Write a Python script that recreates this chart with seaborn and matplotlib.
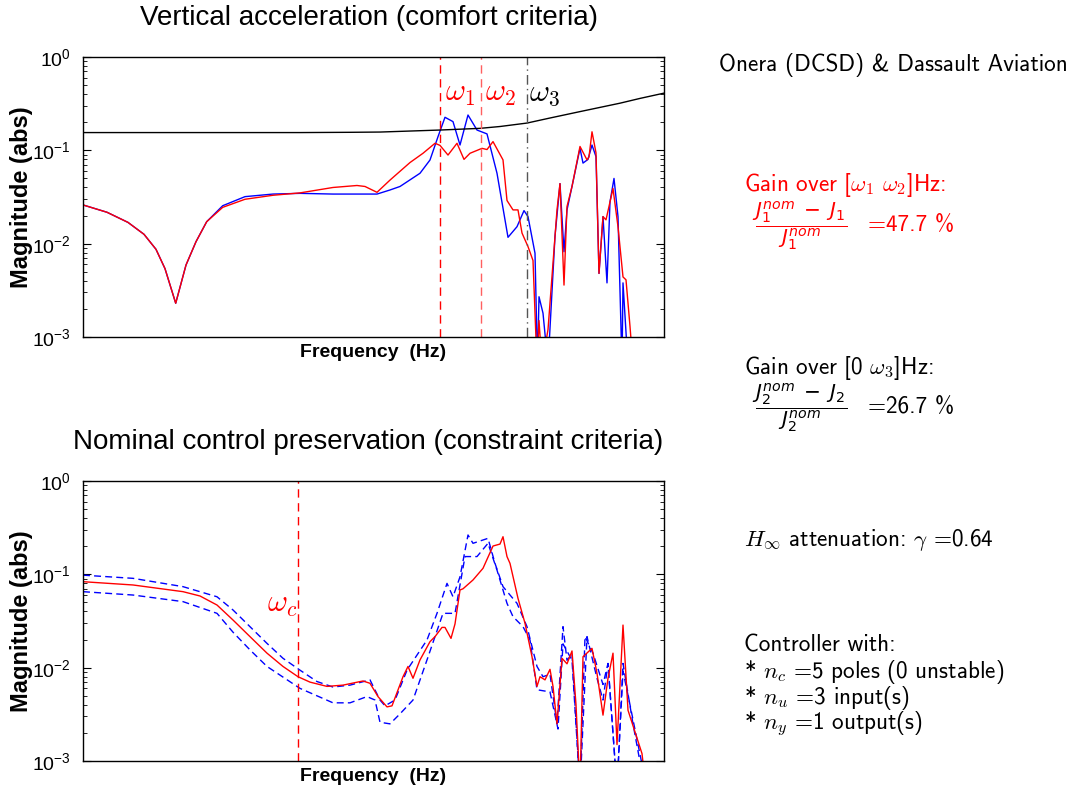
import matplotlib
matplotlib.use("Agg")
import matplotlib.pyplot as plt
import seaborn as sns

# --- data (frequency in Hz, magnitude in abs) ---
# top panel : vertical acceleration
f_bound = [0, 11.7, 21.7, 26.7, 29.7, 35.7, 39.7, 41.7, 44.4, 46.7, 49.7, 53.7, 55.7, 58.1]
mag_bound = [0.155, 0.155, 0.155, 0.156, 0.157, 0.165, 0.172, 0.18, 0.196, 0.222, 0.26, 0.32, 0.36, 0.41]

f_acc_nom = [0, 2.4, 4.5, 6.1, 7.3, 8.2, 9.27, 10.3, 11.3, 12.37,
             13.97, 16.2, 19.0, 21.7, 25.0, 29.4, 30.7, 31.7, 33.7, 34.7,
             35.5, 36.2, 37.0, 37.7, 38.5, 39.4, 40.4, 41.4, 42.5, 43.4,
             44.1, 44.5, 45.2, 45.45, 45.6, 46.0, 46.5, 47.2, 47.7, 48.1,
             48.4, 48.9, 49.7, 50.0, 50.5, 50.9, 51.3, 51.6, 52.0, 52.4,
             52.7, 53.1, 53.5, 53.9, 54.0, 54.5]
mag_acc_nom = [0.026, 0.0217, 0.0169, 0.0126, 0.0087, 0.0054, 0.0023, 0.0059, 0.0105, 0.0172,
               0.0255, 0.0319, 0.034, 0.0346, 0.034, 0.034, 0.0376, 0.041, 0.0568, 0.0788,
               0.14, 0.226, 0.203, 0.114, 0.239, 0.165, 0.15, 0.0568, 0.0117, 0.0152,
               0.0226, 0.0195, 0.0079, 0.0005, 0.0027, 0.0018, 0.0005, 0.012, 0.044, 0.0082,
               0.023, 0.041, 0.105, 0.073, 0.08, 0.114, 0.0855, 0.0048, 0.0195, 0.0038,
               0.028, 0.05, 0.0195, 0.0005, 0.0038, 0.0005]

f_acc_new = [0, 2.4, 4.5, 6.1, 7.3, 8.2, 9.27, 10.3, 11.3, 12.37,
             13.97, 16.2, 19.0, 21.7, 25.0, 27.4, 28.2, 29.4, 30.7, 32.7,
             34.0, 35.2, 35.7, 36.5, 37.4, 38.1, 38.7, 39.9, 40.4, 41.0,
             42.0, 42.4, 43.0, 43.5, 43.9, 44.5, 45.0, 45.4, 45.6, 45.9,
             46.5, 47.4, 47.7, 48.1, 48.4, 48.9, 49.7, 50.4, 50.6, 50.9,
             51.3, 51.6, 52.0, 52.3, 52.7, 53.0, 53.5, 54.0, 54.3, 54.7,
             55.0]
mag_acc_new = [0.026, 0.0217, 0.0169, 0.0126, 0.0087, 0.0054, 0.0023, 0.0059, 0.0105, 0.0172,
               0.0245, 0.0299, 0.033, 0.035, 0.040, 0.042, 0.041, 0.0355, 0.048, 0.074,
               0.093, 0.119, 0.113, 0.089, 0.119, 0.080, 0.093, 0.105, 0.102, 0.124,
               0.079, 0.029, 0.023, 0.023, 0.013, 0.0093, 0.0066, 0.0005, 0.0015, 0.0005,
               0.0012, 0.023, 0.044, 0.0036, 0.025, 0.041, 0.11, 0.079, 0.085, 0.158,
               0.094, 0.0048, 0.0195, 0.018, 0.028, 0.039, 0.0152, 0.0044, 0.0041, 0.0013,
               0.0005]

# bottom panel : nominal control preservation
f_ctrl = [0, 5.0, 10.0, 11.7, 13.4, 15.0, 16.7, 18.4, 20.0, 21.5,
          22.7, 24.4, 26.0, 28.0, 28.7, 29.5, 30.4, 30.9, 32.0, 32.5,
          33.0, 33.7, 34.7, 35.2, 35.9, 36.2, 36.8, 37.2, 37.7, 38.0,
          39.0, 40.0, 41.0, 41.7, 42.0, 42.4, 42.7, 43.5, 44.2, 44.9,
          45.4, 45.7, 46.2, 46.7, 47.0, 47.4, 47.9, 48.4, 48.9, 49.3,
          49.7, 50.0, 50.9, 51.4, 52.0, 52.5, 53.0, 53.4, 54.0, 54.5,
          55.9, 56.3]
mag_ctrl = [0.0834, 0.0769, 0.0652, 0.0586, 0.0469, 0.0324, 0.0215, 0.0143, 0.0103, 0.0080,
            0.0070, 0.0063, 0.0065, 0.0072, 0.0068, 0.0049, 0.0038, 0.0039, 0.008, 0.0103,
            0.0077, 0.0121, 0.019, 0.0215, 0.027, 0.027, 0.0206, 0.0294, 0.068, 0.07,
            0.087, 0.116, 0.201, 0.211, 0.253, 0.155, 0.131, 0.0553, 0.0299, 0.0131,
            0.0063, 0.0080, 0.0074, 0.0096, 0.0063, 0.0025, 0.0126, 0.011, 0.0151, 0.004,
            0.0005, 0.0131, 0.0161, 0.0087, 0.0031, 0.0077, 0.0143, 0.0015, 0.0286, 0.0035,
            0.0012, 0.0005]

f_ctrl_hi = [0, 5.0, 10.0, 13.4, 15.0, 18.4, 20.0, 21.7, 23.4, 25.0,
             26.7, 28.7, 29.7, 30.2, 31.2, 32.4, 34.4, 35.4, 36.4, 37.0,
             37.7, 38.5, 39.0, 40.5, 41.2, 42.0, 43.4, 44.4, 45.4, 46.0,
             46.7, 47.4, 48.0, 48.4, 48.9, 49.7, 50.2, 51.0, 52.0, 52.5,
             53.4, 54.0, 55.0, 56.2]
mag_ctrl_hi = [0.098, 0.0906, 0.0738, 0.0575, 0.0415, 0.0182, 0.0126, 0.0094, 0.0071, 0.0062,
               0.0065, 0.0074, 0.0045, 0.0039, 0.0045, 0.0094, 0.0198, 0.0382, 0.080, 0.0575,
               0.094, 0.264, 0.215, 0.243, 0.131, 0.0738, 0.0489, 0.0275, 0.0103, 0.0080,
               0.0085, 0.0025, 0.0275, 0.012, 0.014, 0.0005, 0.0215, 0.0143, 0.0066, 0.0111,
               0.0005, 0.0111, 0.0025, 0.0005]

f_ctrl_lo = [0, 5.0, 10.0, 13.4, 15.0, 16.7, 18.4, 21.7, 25.0, 26.7,
             28.4, 29.2, 29.7, 30.7, 31.7, 33.0, 34.4, 36.0, 37.2, 38.2,
             39.4, 40.5, 41.4, 42.4, 43.0, 44.0, 44.7, 45.4, 46.7, 47.5,
             48.0, 48.9, 49.7, 50.4, 51.4, 52.0, 52.5, 53.4, 54.0, 54.7,
             56.4]
mag_ctrl_lo = [0.0652, 0.060, 0.051, 0.0382, 0.024, 0.0155, 0.0103, 0.0060, 0.0042, 0.0042,
               0.0049, 0.0045, 0.0026, 0.0025, 0.0032, 0.0045, 0.0121, 0.0382, 0.0382, 0.155,
               0.155, 0.215, 0.111, 0.0489, 0.0352, 0.0275, 0.0198, 0.0058, 0.0055, 0.0022,
               0.018, 0.012, 0.0005, 0.0215, 0.0077, 0.0045, 0.011, 0.0005, 0.0092, 0.004,
               0.0005]

# band limits (Hz)
w1, w2, w3, wc = 35.7, 39.8, 44.4, 21.5
f_max = 58.1

# --- style ---
sns.set_style("white")
plt.rcParams['font.family'] = ['Liberation Sans', 'DejaVu Sans']
plt.rcParams['mathtext.fontset'] = 'custom'
plt.rcParams['mathtext.rm'] = 'Liberation Sans'
plt.rcParams['mathtext.it'] = 'Liberation Sans:italic'
plt.rcParams['mathtext.bf'] = 'Liberation Sans:bold'
for key in ('text.color', 'axes.labelcolor', 'xtick.color', 'ytick.color'):
    plt.rcParams[key] = 'black'

W, H = 1077, 789
fig = plt.figure(figsize=(W / 100, H / 100), dpi=100)
ax1 = fig.add_axes([83 / W, 1 - 337 / H, 581 / W, 280 / H])
ax2 = fig.add_axes([83 / W, 1 - 761 / H, 581 / W, 280 / H])

kw = dict(estimator=None, sort=False, linewidth=1)
sns.lineplot(x=f_acc_nom, y=mag_acc_nom, color='#0000ff', ax=ax1, **kw)
sns.lineplot(x=f_acc_new, y=mag_acc_new, color='#ff0000', ax=ax1, **kw)
sns.lineplot(x=f_bound, y=mag_bound, color='black', ax=ax1, **kw)

dash = (0, (5, 3))
sns.lineplot(x=f_ctrl_hi, y=mag_ctrl_hi, color='#0000ff', ax=ax2, **kw)
sns.lineplot(x=f_ctrl_lo, y=mag_ctrl_lo, color='#0000ff', ax=ax2, **kw)
for ln in ax2.get_lines():
    ln.set_linestyle(dash)
sns.lineplot(x=f_ctrl, y=mag_ctrl, color='#ff0000', ax=ax2, **kw)

ax1.axvline(w1, color='#ff0000', lw=1, ls=(0, (6, 4)))
ax1.axvline(w2, color='#ff6060', lw=1, ls=(0, (6, 4)))
ax1.axvline(w3, color='#555555', lw=1, ls=(0, (7, 3, 1, 3)))
ax2.axvline(wc, color='#ff0000', lw=1, ls=(0, (6, 4)))

for ax in (ax1, ax2):
    ax.set_yscale('log')
    ax.set_ylim(1e-3, 1)
    ax.set_xlim(0, f_max)
    ax.set_xticks([])
    ax.tick_params(axis='y', which='both', direction='in', left=True, right=True,
                   labelsize=14, pad=9)
    ax.tick_params(axis='y', which='major', length=6, width=0.8)
    ax.tick_params(axis='y', which='minor', length=3, width=0.6)
    for s in ax.spines.values():
        s.set_color('black')
        s.set_linewidth(1)
    ax.set_ylabel('Magnitude (abs)', fontsize=17, fontweight='bold')
    ax.yaxis.set_label_coords(-0.086, 0.5)
    ax.set_xlabel('Frequency  (Hz)', fontsize=14, fontweight='bold', labelpad=5)

# band labels
mk = dict(fontsize=22, va='center', math_fontfamily='cm')
ax1.text(w1 + 0.5, 0.41, r'$\omega_1$', color='#ff0000', **mk)
ax1.text(w2 + 0.4, 0.41, r'$\omega_2$', color='#ff0000', **mk)
ax1.text(w3 + 0.2, 0.41, r'$\omega_3$', color='black', **mk)
ax2.text(wc - 0.1, 0.048, r'$\omega_c$', color='#ff0000', ha='right', **mk)

# titles
fig.text(369 / W, 1 - 18 / H, 'Vertical acceleration (comfort criteria)', fontsize=20,
         ha='center', va='center')
fig.text(368 / W, 1 - 442 / H, 'Nominal control preservation (constraint criteria)', fontsize=20,
         ha='center', va='center')

# side notes
side = dict(family=['cmss10', 'DejaVu Sans'], fontsize=16.7, va='center', math_fontfamily='cm')
frac = {**side, 'math_fontfamily': 'dejavusans', 'fontsize': 14.5}
fig.text(719 / W, 1 - 65 / H, 'Onera (DCSD) & Dassault Aviation', **side)
fig.text(744 / W, 1 - 185 / H, r'Gain over [$\omega_1$ $\omega_2$]Hz:', color='#ff0000', **side)
fig.text(752 / W, 1 - 226 / H, r'$\dfrac{J_1^{nom}\;-\;J_1}{J_1^{nom}}$', color='#ff0000', **frac)
fig.text(868 / W, 1 - 225 / H, '=47.7 %', color='#ff0000', **side)
fig.text(744 / W, 1 - 368 / H, r'Gain over [0 $\omega_3$]Hz:', color='black', **side)
fig.text(752 / W, 1 - 408 / H, r'$\dfrac{J_2^{nom}\;-\;J_2}{J_2^{nom}}$', color='black', **frac)
fig.text(868 / W, 1 - 407 / H, '=26.7 %', color='black', **side)
fig.text(744 / W, 1 - 540 / H, r'$H_\infty$ attenuation: $\gamma$ =0.64', **side)
fig.text(744 / W, 1 - 645 / H, 'Controller with:', **side)
fig.text(744 / W, 1 - 672 / H, r'* $n_c$ =5 poles (0 unstable)', **side)
fig.text(744 / W, 1 - 698 / H, r'* $n_u$ =3 input(s)', **side)
fig.text(744 / W, 1 - 724 / H, r'* $n_y$ =1 output(s)', **side)

fig.savefig('out.png', dpi=100)
